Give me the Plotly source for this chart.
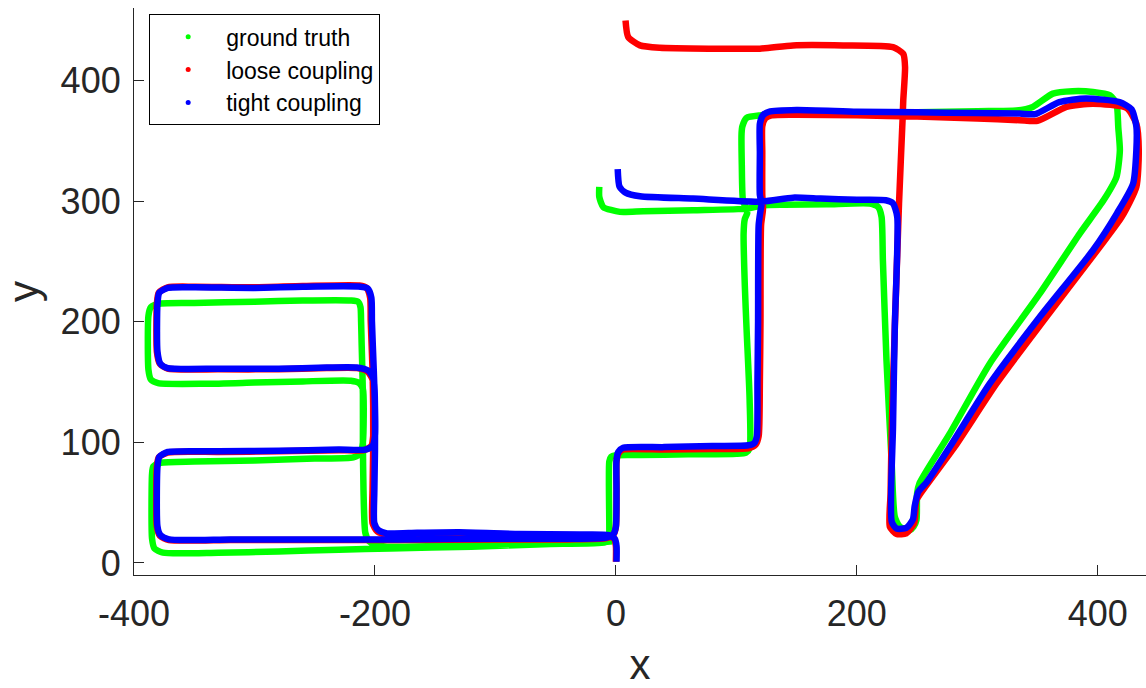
import plotly.graph_objects as go

# ---------------- data ----------------
gt_x = [-3, -20, -50, -100, -150, -190, -199, -205, -208, -209.5, -210, -210, -211, -211.5, -212, -214, -220,
        -260, -300, -350, -378, -386, -388, -388, -386, -380, -340, -300, -260, -220, -213, -210, -210, -212, -218,
        -250, -300, -350, -378, -384, -385, -385, -383, -376, -330, -280, -230, -187, -120, -60, -15, -8, -6, -5.5,
        -5.5, -4, 0, 20, 60, 100, 108, 111, 111, 108.5, 107, 106, 107, 109, 108, 105.5, 104.5, 104.3, 105, 108.5,
        119.5, 150, 200, 250, 300, 332.5, 346, 362.7, 379, 396, 410, 415.5, 417, 418.3, 415.5, 405, 385,
        351.9, 310.4, 277.2, 252, 250, 249.5,
        247, 244, 235.7, 231.5, 228.8, 224.6, 221.6, 220.5, 217.7, 210.8, 174.8, 140, 122, 108.5, 64, 22.7, 3.3,
        -10.5, -13.8, -13.8]
gt_y = [18, 16.5, 16, 15, 14, 13.5, 14.5, 18, 25, 60, 100, 140, 180, 200, 212, 216.5, 217.5,
        217.5, 216.5, 215.5, 215, 212, 205, 160, 152, 149, 148.5, 149.5, 150.5, 151, 149, 144, 100, 91, 87.5,
        86.5, 85, 84, 83, 80, 74, 20, 12, 8.5, 8.5, 9.5, 11, 12, 13.5, 15.5, 16.5, 17.5, 20, 25,
        84, 88, 89.2, 89.4, 90, 90.5, 91.5, 95, 135, 193, 230, 273, 285, 290, 294, 300, 330, 356, 362, 369,
        371, 372, 372.5, 373.5, 374.5, 375, 378, 389, 391, 390.4, 387.6, 380.7, 361, 342, 320, 301, 273,
        223.4, 165.4, 107.4, 66, 57.7, 35.6,
        30, 27.3, 30, 38.3, 85, 168, 251, 286.8, 295, 297.9, 297.3, 297, 296.5, 293.7, 292.4, 291.5, 291,
        295, 303.4, 311.7]

loose_x = [0, 0, -1.5, -6.5, -30, -80, -130, -165, -190, -198, -202, -202, -201.5, -201.5, -202, -203.5, -204,
           -207, -213, -260, -300, -350, -372, -379.5, -381, -381, -378.5, -372, -330, -280, -240, -215, -206,
           -202, -201.5, -201.5, -203, -209, -230, -280, -330, -372, -379.5, -381, -381, -378.5, -371, -320,
           -250, -180, -100, -40, -8, -2, 0, 0.5, 0.5, 2, 6, 40, 80, 110, 116, 118.5, 119.5, 120, 120.5, 122,
           122, 121.5, 121.5, 121.5, 124, 129, 150, 200, 250, 300, 335, 350, 374, 396, 424, 432, 434, 432,
           420, 401.7, 357.4, 316, 281.3, 258, 249.5, 247.6, 241, 233, 227.4, 228, 229, 231.5, 235, 238,
           238.5, 240, 238.5, 230, 188.6, 147, 119.5, 78, 36.5, 20, 10.2, 8]
loose_y = [1, 14, 20, 22.5, 23, 23.5, 24.5, 24, 23.5, 26, 33, 60, 92, 130, 160, 200, 220,
           228, 230, 229.5, 228.5, 229, 228.5, 224, 215, 175, 165, 161, 160.5, 160.5, 161.5, 161.5, 158.5,
           152, 130, 105, 97, 93.5, 93.5, 92.5, 92, 91.5, 87.5, 80, 30, 22.5, 19, 19,
           19, 19, 19.5, 19.5, 20.5, 23.5, 30, 60, 84, 90.5, 94, 94, 94.5, 95, 98, 105, 150, 200, 280, 292,
           298, 305, 340, 362, 368.5, 371, 371.5, 371, 370, 368.5, 367, 366.5, 378, 380.7, 377, 364, 342, 311.7,
           287, 262, 204, 148.8, 96.3, 64.6, 52, 33, 24.6, 24, 30, 57.7, 113, 195, 298, 369,
           383, 411, 422, 427.6, 429, 429, 426.3, 426.3, 427, 429, 436, 449.6]

tight_x = [0.5, 0.5, -1, -6, -30, -80, -130, -165, -190, -197, -200.5, -200.5, -200, -200, -201, -202.5, -203,
           -206, -212, -260, -300, -350, -372, -379, -380.5, -380.5, -378, -372, -330, -280, -240, -215, -205,
           -201, -200, -200, -202, -208, -230, -280, -330, -372, -379, -380.5, -380.5, -378, -371, -320,
           -250, -180, -100, -40, -8, -2, 0, 0.5, 0.5, 2, 6, 40, 80, 110, 115, 117, 117.5, 118, 118.5, 120,
           121, 119.5, 119.5, 119.5, 122, 127, 150, 200, 250, 300, 335, 348, 368, 390, 418, 428, 432, 432,
           429.3, 416, 396, 351.9, 310.4, 277.2, 258, 251, 248, 246.5, 241, 233, 229, 230, 231.5,
           233.5, 230, 224, 200, 170, 147, 120, 64, 20, 8, 3, 1.5]
tight_y = [1, 14, 20, 23, 23.5, 24, 25.5, 25, 24.5, 27, 33, 60, 92, 130, 160, 200, 220,
           227.5, 229, 229, 228, 228.5, 228, 224, 215, 175, 165, 161.5, 161, 161, 162, 162, 159,
           152, 130, 105, 97, 94, 94, 93, 92.5, 92, 88, 80, 30, 23, 19.5, 19.5,
           19.5, 19.5, 20, 20, 21, 24, 30, 60, 85, 92, 95.5, 96, 97, 97.5, 99.5, 105, 150, 200, 280, 292,
           298, 305, 340, 364, 371, 374, 375.5, 374, 373.5, 373, 372.5, 372, 382, 385, 382, 376, 362, 342,
           314.4, 290, 259.2, 204, 148.8, 96.3, 67, 59, 47, 36, 29, 28.5, 34, 113, 196,
           287, 298, 300.6, 301, 302, 302.8, 299.5, 302, 304, 307, 312, 326.5]

series_names = ["ground truth", "loose coupling", "tight coupling"]
series_colors = ["#00ff00", "#ff0000", "#0000ff"]

x_ticks = [-400, -200, 0, 200, 400]
x_tick_text = ["-400", "-200", "0", "200", "400"]
y_ticks = [0, 100, 200, 300, 400]
y_tick_text = ["0", "100", "200", "300", "400"]

# ---------------- figure ----------------
fig = go.Figure()
all_x = [gt_x, loose_x, tight_x]
all_y = [gt_y, loose_y, tight_y]
for xs, ys, name, col in zip(all_x, all_y, series_names, series_colors):
    fig.add_trace(go.Scatter(x=xs, y=ys, mode="lines", name=name,
                             line=dict(color=col, width=6.5, shape="spline", smoothing=0.6),
                             showlegend=False, hoverinfo="skip"))
for name, col in zip(series_names, series_colors):
    fig.add_trace(go.Scatter(x=[None], y=[None], mode="markers", name=name,
                             marker=dict(color=col, size=5)))

axis_col = "#262626"
font_fam = "Helvetica, 'Liberation Sans', Arial, sans-serif"
fig.update_layout(
    width=1146, height=688,
    margin=dict(l=134, r=0, t=8, b=113),
    plot_bgcolor="white", paper_bgcolor="white",
    font=dict(family=font_fam, color=axis_col),
    legend=dict(x=0.015, y=0.989, xanchor="left", yanchor="top",
                bordercolor="#000000", borderwidth=1, bgcolor="white",
                font=dict(size=23, color="#000000", family=font_fam),
                itemwidth=66, tracegroupgap=0),
    xaxis=dict(range=[-400, 440], showgrid=False, zeroline=False, showline=True,
               linecolor=axis_col, linewidth=1.2, ticks="inside", ticklen=10,
               tickcolor=axis_col, tickvals=x_ticks, ticktext=x_tick_text,
               tickfont=dict(size=36, color=axis_col), ticklabelstandoff=7,
               title=dict(text="x", font=dict(size=42, color=axis_col), standoff=16)),
    yaxis=dict(range=[-10, 460], showgrid=False, zeroline=False, showline=True,
               linecolor=axis_col, linewidth=1.2, ticks="inside", ticklen=10,
               tickcolor=axis_col, tickvals=y_ticks, ticktext=y_tick_text,
               tickfont=dict(size=36, color=axis_col), ticklabelstandoff=5,
               title=dict(text="y", font=dict(size=42, color=axis_col), standoff=16)),
)

fig.write_html("out.html")
